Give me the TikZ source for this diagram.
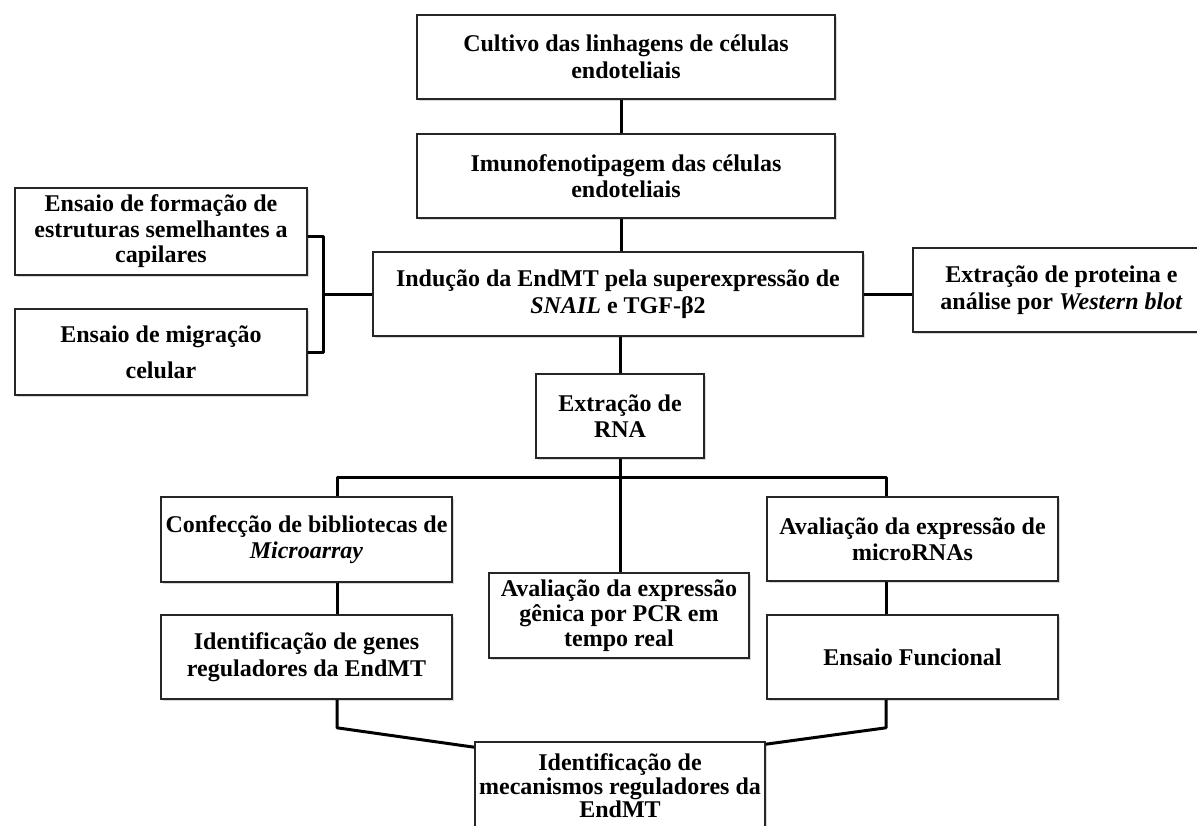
\documentclass[tikz,border=0pt]{standalone}
\usepackage{fontspec}
\setmainfont{Liberation Serif}
\usetikzlibrary{shadows}
\begin{document}
\begin{tikzpicture}[x=1pt,y=-1pt,
  box/.style={draw=black!85, line width=1.6pt, fill=white, align=center,
    font=\fontsize{24}{26.5}\selectfont\bfseries, inner sep=1pt,
    drop shadow={shadow xshift=2pt, shadow yshift=-2pt, fill=black!30, opacity=0.5}},
  link/.style={line width=3pt, black, line join=round}]
\fill[white] (0,0) rectangle (1197,825);
\useasboundingbox (0,0) rectangle (1197,825);

\node[box, minimum width=418pt, minimum height=84pt] (cultivo) at (626,57)
  {Cultivo das linhagens de células\\endoteliais};
\node[box, minimum width=418pt, minimum height=84pt] (imuno) at (626,176)
  {Imunofenotipagem das células\\endoteliais};
\node[box, minimum width=292pt, minimum height=87pt, font=\fontsize{24}{25.5}\selectfont\bfseries] (form) at (161,231.5)
  {Ensaio de formação de\\estruturas semelhantes a\\capilares};
\node[box, minimum width=292pt, minimum height=86pt, font=\fontsize{24}{36}\selectfont\bfseries] (migr) at (161,352)
  {Ensaio de migração\\celular};
\node[box, minimum width=490pt, minimum height=84pt] (ind) at (618,294)
  {Indução da EndMT pela superexpressão de\\\textit{SNAIL} e TGF-β2};
\node[box, minimum width=297pt, minimum height=84pt] (west) at (1061.5,290)
  {Extração de proteina e\\análise por \textit{Western blot}};
\node[box, minimum width=168pt, minimum height=84pt] (rna) at (620,416)
  {Extração de\\RNA};
\node[box, minimum width=291pt, minimum height=85pt] (conf) at (306.5,539.5)
  {Confecção de bibliotecas de\\\textit{Microarray}};
\node[box, minimum width=291pt, minimum height=84pt] (mir) at (912.5,539)
  {Avaliação da expressão de\\microRNAs};
\node[box, minimum width=260pt, minimum height=85pt, font=\fontsize{24}{25}\selectfont\bfseries] (pcr) at (619,615.5)
  {Avaliação da expressão\\gênica por PCR em\\tempo real};
\node[box, minimum width=291pt, minimum height=84pt] (genes) at (306.5,657)
  {Identificação de genes\\reguladores da EndMT};
\node[box, minimum width=291pt, minimum height=84pt] (func) at (912.5,657)
  {Ensaio Funcional};
\node[box, minimum width=290pt, minimum height=88pt, font=\fontsize{24}{23.5}\selectfont\bfseries] (final) at (620,786)
  {Identificação de\\mecanismos reguladores da\\EndMT};

\coordinate (cx) at (621,0);
\coordinate (bx) at (323,0);
\coordinate (L) at (337,477);
\coordinate (R) at (886,477);

\draw[link] (cultivo.south -| cx) -- (imuno.north -| cx);
\draw[link] (imuno.south -| cx) -- (ind.north -| cx);
\draw[link] ([yshift=-5pt]form.east) -| (bx |- migr.east) -- (migr.east);
\draw[link] (ind.west) -- (ind.west -| bx);
\draw[link] (ind.east) -- (ind.east -| west.west);
\draw[link] (ind.south -| rna.north) -- (rna.north);
\draw[link] (rna.south) -- (pcr.north -| rna.south);
\draw[link] (conf.north -| L) -- (L) -- (R) -- (mir.north -| R);
\draw[link] (conf.south -| L) -- (genes.north -| L);
\draw[link] (mir.south -| R) -- (func.north -| R);
\draw[link] (genes.south -| L) -- ++(0,28) -- ([yshift=-6pt]final.north west);
\draw[link] (func.south -| R) -- ++(0,28) -- ([yshift=-3pt]final.north east);
\end{tikzpicture}
\end{document}
